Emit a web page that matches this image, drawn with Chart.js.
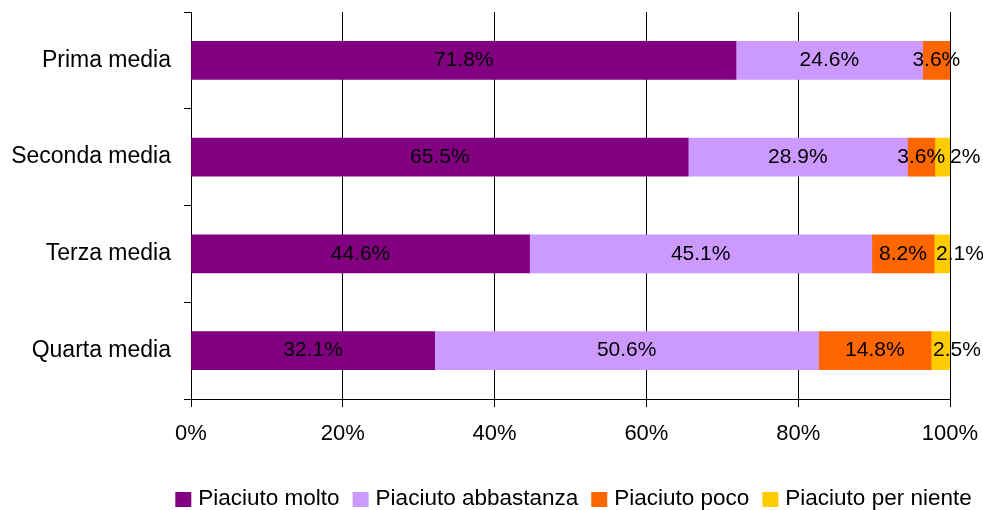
<!DOCTYPE html>
<html>
<head>
<meta charset="utf-8">
<script src="https://cdn.jsdelivr.net/npm/chart.js@4/dist/chart.umd.min.js"></script>
<style>
  html, body { margin: 0; padding: 0; background: #fff; }
  #wrap { width: 983px; height: 510px; }
</style>
</head>
<body>
<div id="wrap"><canvas id="chart"></canvas></div>
<script>
// categories (school years)
var classi = ["Prima media", "Seconda media", "Terza media", "Quarta media"];

// series values, percent
var molto      = [71.8, 65.5, 44.6, 32.1];
var abbastanza = [24.6, 28.9, 45.1, 50.6];
var poco       = [3.6, 3.6, 8.2, 14.8];
var per_niente = [0, 2, 2.1, 2.5];

var serie_nomi = ["Piaciuto molto", "Piaciuto abbastanza", "Piaciuto poco", "Piaciuto per niente"];
var serie_colori = ["#800080", "#CC99FF", "#FF6600", "#FFCC00"];

// x axis ticks
var x_ticks = [0, 20, 40, 60, 80, 100];

var font_name = "'Liberation Sans', Arial, sans-serif";

// labels inside the segments
var segment_labels = {
  id: "segment_labels",
  afterDatasetsDraw: function(chart) {
    var ctx = chart.ctx;
    ctx.save();
    ctx.font = "21px " + font_name;
    ctx.fillStyle = "#000";
    ctx.textBaseline = "middle";
    var n = chart.data.datasets.length;
    for (var j = 0; j < chart.data.labels.length; j++) {
      var prev_right = -1000;
      for (var i = 0; i < n; i++) {
        var v = chart.data.datasets[i].data[j];
        if (!v) continue;
        var bar = chart.getDatasetMeta(i).data[j];
        var txt = v + "%";
        var w = ctx.measureText(txt).width;
        var left = Math.min(bar.x, bar.base);
        var x;
        if (i == n - 1) {
          // small last segment: start at the segment, keep clear of the previous text
          x = Math.max(left + 2, prev_right + 5);
        } else {
          x = (bar.x + bar.base) / 2 - w / 2;
        }
        ctx.textAlign = "left";
        ctx.fillText(txt, x, bar.y);
        prev_right = x + w;
      }
    }
    ctx.restore();
  }
};

// legend under the axis, centred on the plot
var bottom_legend = {
  id: "bottom_legend",
  afterDraw: function(chart) {
    var ctx = chart.ctx;
    var area = chart.chartArea;
    ctx.save();
    ctx.font = "22.5px " + font_name;
    ctx.textBaseline = "middle";
    ctx.textAlign = "left";
    var box = 16, gap = 7, space = 13;
    var total = 0;
    for (var i = 0; i < serie_nomi.length; i++) {
      total += box + gap + ctx.measureText(serie_nomi[i]).width;
    }
    total += space * (serie_nomi.length - 1);
    var x = (area.left + area.right) / 2 - total / 2 + 3;
    var y = 499;
    for (var i = 0; i < serie_nomi.length; i++) {
      ctx.fillStyle = serie_colori[i];
      ctx.fillRect(x, y - 7, box, 15);
      ctx.fillStyle = "#000";
      ctx.fillText(serie_nomi[i], x + box + gap, y);
      x += box + gap + ctx.measureText(serie_nomi[i]).width + space;
    }
    ctx.restore();
  }
};

var all_series = [molto, abbastanza, poco, per_niente];
var datasets = [];
for (var i = 0; i < all_series.length; i++) {
  datasets.push({
    label: serie_nomi[i],
    data: all_series[i],
    backgroundColor: serie_colori[i],
    borderWidth: 0,
    barThickness: 38
  });
}

new Chart("chart", {
  type: "bar",
  data: { labels: classi, datasets: datasets },
  plugins: [segment_labels, bottom_legend],
  options: {
    indexAxis: "y",
    responsive: true,
    maintainAspectRatio: false,
    animation: false,
    layout: { padding: { top: 12, right: 33, left: 0, bottom: 0 } },
    plugins: {
      legend: { display: false },
      tooltip: { enabled: false }
    },
    scales: {
      x: {
        stacked: true,
        min: 0,
        max: 100,
        afterBuildTicks: function(scale) {
          scale.ticks = x_ticks.map(function(v) { return { value: v }; });
        },
        afterFit: function(scale) {
          scale.height = 111;
          scale.paddingLeft = 0;
          scale.paddingRight = 0;
        },
        ticks: {
          color: "#000",
          font: { family: font_name, size: 22 },
          padding: 14,
          maxRotation: 0,
          callback: function(v) { return v + "%"; }
        },
        grid: { color: "#000", lineWidth: 1, tickLength: 8 },
        border: { color: "#000", width: 1 }
      },
      y: {
        stacked: true,
        afterFit: function(scale) {
          scale.width = 191;
          scale.paddingTop = 0;
          scale.paddingBottom = 0;
        },
        ticks: {
          color: "#000",
          font: { family: font_name, size: 23 },
          padding: 13
        },
        grid: { color: "#000", lineWidth: 1, tickLength: 7, drawOnChartArea: false, offset: true },
        border: { color: "#000", width: 1 }
      }
    }
  }
});
</script>
</body>
</html>
